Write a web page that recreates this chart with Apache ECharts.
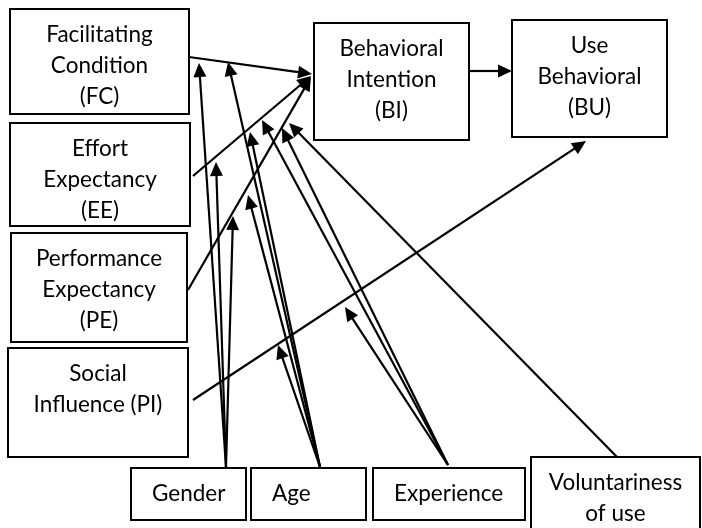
<!DOCTYPE html>
<html>
<head>
<meta charset="utf-8">
<script src="https://cdn.jsdelivr.net/npm/echarts@6/dist/echarts.min.js"></script>
<style>
  html, body { margin: 0; padding: 0; background: #fff; }
  #chart { width: 702px; height: 528px; }
</style>
</head>
<body>
<div id="chart"></div>
<script>
// boxes of the UTAUT diagram
const boxLabels = [
  'Facilitating\nCondition\n(FC)',
  'Effort\nExpectancy\n(EE)',
  'Performance\nExpectancy\n(PE)',
  'Social\nInfluence (PI)',
  'Behavioral\nIntention\n(BI)',
  'Use\nBehavioral\n(BU)',
  'Gender',
  'Age',
  'Experience',
  'Voluntariness\nof use'
];
const boxLeft = [10, 10, 11, 8, 314, 512, 131, 251, 373, 531];
const boxTop = [9, 123, 233, 348, 23, 20, 468, 468, 468, 457];
const boxRight = [189, 190, 187, 188, 469, 667, 246, 366, 525, 700];
const boxBottom = [114, 226, 342, 457, 140, 137, 520, 520, 520, 545];
const boxAlign = ['center', 'center', 'center', 'center', 'center', 'center', 'left', 'left', 'left', 'center'];

// arrows: start point -> tip
const arrowFrom = [
  [189, 57], [193, 176], [188, 290], [469, 71], [193, 400],
  [226, 467], [226, 467], [226, 467],
  [320, 467], [320, 467], [320, 467], [320, 467],
  [448, 465], [448, 465], [448, 465],
  [617, 457]
];
const arrowTo = [
  [312, 74], [311, 76], [311, 77], [512, 71], [586, 141],
  [199, 63], [216, 162], [233, 216],
  [228, 62], [250, 132], [248, 195], [278, 345],
  [262, 120], [282, 128], [345, 307],
  [289, 123]
];

const chart = echarts.init(document.getElementById('chart'), null, { renderer: 'canvas' });

const boxData = boxLabels.map((_, i) => [boxLeft[i], boxTop[i], boxRight[i], boxBottom[i]]);
const arrowData = arrowFrom.map((f, i) => [f[0], f[1], arrowTo[i][0], arrowTo[i][1]]);

function renderBox(params, api) {
  const i = params.dataIndex;
  const p0 = api.coord([api.value(0), api.value(1)]);
  const p1 = api.coord([api.value(2), api.value(3)]);
  const tx = boxAlign[i] === 'left' ? p0[0] + 21 : (p0[0] + p1[0]) / 2;
  return {
    type: 'group',
    children: [
      {
        type: 'rect',
        shape: { x: p0[0], y: p0[1], width: p1[0] - p0[0], height: p1[1] - p0[1] },
        style: { fill: '#fff', stroke: '#000', lineWidth: 2 }
      },
      {
        type: 'text',
        x: tx,
        y: p0[1] + 10.5,
        style: {
          text: boxLabels[i],
          fill: '#000',
          fontFamily: 'Lato',
          fontSize: 22.5,
          lineHeight: 31,
          align: boxAlign[i],
          verticalAlign: 'top'
        }
      }
    ]
  };
}

function renderArrow(params, api) {
  const a = api.coord([api.value(0), api.value(1)]);
  const b = api.coord([api.value(2), api.value(3)]);
  const dx = b[0] - a[0], dy = b[1] - a[1];
  const len = Math.sqrt(dx * dx + dy * dy);
  const ux = dx / len, uy = dy / len;
  const hl = 14, hw = 6.5;
  const bx = b[0] - ux * hl, by = b[1] - uy * hl;
  return {
    type: 'group',
    children: [
      {
        type: 'line',
        shape: { x1: a[0], y1: a[1], x2: bx + ux * 2, y2: by + uy * 2 },
        style: { stroke: '#000', lineWidth: 2.2 }
      },
      {
        type: 'polygon',
        shape: { points: [[b[0], b[1]], [bx - uy * hw, by + ux * hw], [bx + uy * hw, by - ux * hw]] },
        style: { fill: '#000' }
      }
    ]
  };
}

const option = {
  animation: false,
  backgroundColor: '#fff',
  grid: { left: 0, right: 0, top: 0, bottom: 0 },
  xAxis: { type: 'value', min: 0, max: 702, show: false },
  yAxis: { type: 'value', min: 0, max: 528, inverse: true, show: false },
  series: [
    {
      type: 'custom',
      name: 'boxes',
      renderItem: renderBox,
      data: boxData,
      encode: { x: [0, 2], y: [1, 3] },
      clip: true,
      z: 1
    },
    {
      type: 'custom',
      name: 'arrows',
      renderItem: renderArrow,
      data: arrowData,
      encode: { x: [0, 2], y: [1, 3] },
      z: 2
    }
  ]
};
chart.setOption(option);
</script>
</body>
</html>
